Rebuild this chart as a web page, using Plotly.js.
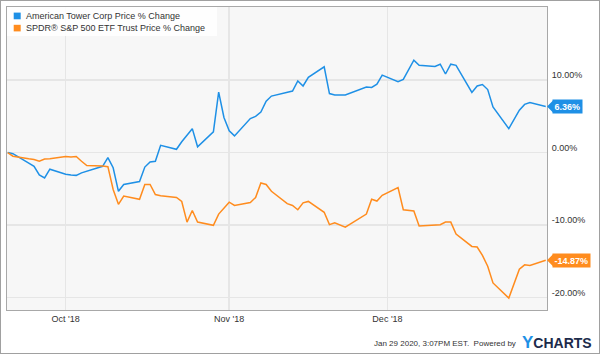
<!DOCTYPE html>
<html>
<head>
<meta charset="utf-8">
<script src="https://cdn.plot.ly/plotly-3.0.1.min.js"></script>
<style>
  html, body { margin: 0; padding: 0; background: #fff; }
  #wrap { position: relative; width: 600px; height: 354px; }
  #chart { position: absolute; left: 0; top: 0; width: 600px; height: 354px; }
  #frame { position: absolute; left: 0; top: 0; width: 600px; height: 354px; box-sizing: border-box; border: 1px solid #a0a0a0; pointer-events: none; }
</style>
</head>
<body>
<div id="wrap"><div id="chart"></div><div id="frame"></div></div>
<script>
// ---- data ----
const dates = [
  '2018-09-20','2018-09-21','2018-09-24','2018-09-25','2018-09-26','2018-09-27','2018-09-28',
  '2018-10-01','2018-10-02','2018-10-03','2018-10-04','2018-10-05','2018-10-08','2018-10-09','2018-10-10','2018-10-11','2018-10-12',
  '2018-10-15','2018-10-16','2018-10-17','2018-10-18','2018-10-19','2018-10-22','2018-10-23','2018-10-24','2018-10-25','2018-10-26',
  '2018-10-29','2018-10-30','2018-10-31',
  '2018-11-01','2018-11-02','2018-11-05','2018-11-06','2018-11-07','2018-11-08','2018-11-09','2018-11-12','2018-11-13','2018-11-14',
  '2018-11-15','2018-11-16','2018-11-19','2018-11-20','2018-11-21','2018-11-23','2018-11-26','2018-11-27','2018-11-28','2018-11-29','2018-11-30',
  '2018-12-03','2018-12-04','2018-12-06','2018-12-07','2018-12-10','2018-12-11','2018-12-12','2018-12-13','2018-12-14',
  '2018-12-17','2018-12-18','2018-12-19','2018-12-20','2018-12-21','2018-12-24','2018-12-26','2018-12-27','2018-12-28','2018-12-31'
];
const amtChange = [
  0, -0.15, -1.45, -1.9, -3.1, -3.5, -2.3,
  -3.0, -3.1, -3.15, -2.8, -2.6, -1.9, -0.7, -2.1, -5.35, -4.4,
  -4.0, -2.0, -1.3, -1.2, 1.0, 0.45, 1.5, 2.4, 3.3, 0.8,
  2.85, 8.35, 4.85,
  3.0, 2.3, 4.7, 5.0, 5.6, 7.1, 7.8, 8.35, 8.5, 9.9,
  9.2, 10.4, 11.85, 8.15, 7.95, 7.95, 8.7, 9.05, 9.0, 9.45, 10.7,
  9.8, 10.1, 12.75, 12.05, 11.9, 12.2, 10.85, 12.2, 12.05,
  8.3, 9.2, 9.4, 8.7, 6.3, 3.3, 5.85, 6.65, 6.9, 6.36
];
const spyChange = [
  0, -0.5, -0.85, -0.95, -1.2, -0.9, -0.85,
  -0.55, -0.6, -0.55, -1.2, -1.8, -1.85, -1.95, -5.1, -7.15, -6.0,
  -6.45, -4.4, -4.4, -5.8, -5.95, -6.2, -6.75, -9.6, -8.0, -9.6,
  -10.05, -8.5, -7.6,
  -6.85, -7.3, -6.9, -6.2, -4.2, -4.4, -5.35, -7.05, -7.3, -7.9,
  -6.95, -6.75, -8.25, -9.95, -9.7, -10.3, -8.9, -8.5, -6.45, -6.7, -5.9,
  -4.85, -7.9, -8.07, -10.15, -9.96, -9.96, -9.6, -9.6, -11.25,
  -12.96, -13.05, -14.2, -15.7, -18.0, -20.1, -16.1, -15.5, -15.6, -14.87
];
const seriesNames = ['American Tower Corp Price % Change', 'SPDR® S&P 500 ETF Trust Price % Change'];
const monthTicks = ['2018-10-01', '2018-11-01', '2018-12-01'];
const monthLabels = ["Oct '18", "Nov '18", "Dec '18"];
const yTicks = [-20, -10, 0, 10];
const yLabels = yTicks.map(v => v.toFixed(2) + '%');
const footerText = 'Jan 29 2020, 3:07PM EST.  Powered by';

// ---- style ----
const BLUE = '#1e90e6';
const ORANGE = '#ff8c1e';
const FONT = 'Liberation Sans, Arial, Helvetica, sans-serif';
const M = {l: 7, r: 53, t: 7, b: 44};
const PW = 600 - M.l - M.r, PH = 354 - M.t - M.b;
const px2x = p => (p - M.l) / PW;
const px2y = p => 1 - (p - M.t) / PH;

const traces = [
  {x: dates, y: amtChange, type: 'scatter', mode: 'lines', name: seriesNames[0],
   line: {color: BLUE, width: 1.5}, hoverinfo: 'skip'},
  {x: dates, y: spyChange, type: 'scatter', mode: 'lines', name: seriesNames[1],
   line: {color: ORANGE, width: 1.5}, hoverinfo: 'skip'}
];

const lastA = amtChange[amtChange.length - 1];
const lastS = spyChange[spyChange.length - 1];

const shapes = [
  // legend box
  {type: 'rect', xref: 'paper', yref: 'paper', x0: 0, x1: px2x(217), y0: px2y(36), y1: 1,
   fillcolor: 'rgba(255,255,255,0.85)', line: {width: 0}},
  {type: 'rect', xref: 'paper', yref: 'paper', x0: px2x(13.7), x1: px2x(20.7), y0: px2y(19.3), y1: px2y(12.6),
   fillcolor: BLUE, line: {width: 0}},
  {type: 'rect', xref: 'paper', yref: 'paper', x0: px2x(13.7), x1: px2x(20.7), y0: px2y(31.4), y1: px2y(24.8),
   fillcolor: ORANGE, line: {width: 0}},
  // end label pointers
  {type: 'path', xref: 'paper', xsizemode: 'pixel', xanchor: 1, yref: 'y', ysizemode: 'pixel', yanchor: lastA,
   path: 'M0,0 L6,6 L6,-6 Z', fillcolor: BLUE, line: {width: 0}},
  {type: 'path', xref: 'paper', xsizemode: 'pixel', xanchor: 1, yref: 'y', ysizemode: 'pixel', yanchor: lastS,
   path: 'M0,0 L6,6 L6,-6 Z', fillcolor: ORANGE, line: {width: 0}}
];

const annotations = [
  {xref: 'paper', yref: 'paper', x: px2x(24), y: px2y(16), xanchor: 'left', yanchor: 'middle',
   text: seriesNames[0], showarrow: false, font: {size: 9, color: '#333', family: FONT}},
  {xref: 'paper', yref: 'paper', x: px2x(24), y: px2y(28.2), xanchor: 'left', yanchor: 'middle',
   text: seriesNames[1], showarrow: false, font: {size: 9, color: '#333', family: FONT}},
  {xref: 'paper', yref: 'y', x: 1, y: lastA, xanchor: 'left', yanchor: 'middle', xshift: 5,
   text: '<b>' + lastA.toFixed(2) + '%</b>', showarrow: false, bgcolor: BLUE, borderpad: 1.5,
   font: {size: 9, color: '#fff', family: FONT}},
  {xref: 'paper', yref: 'y', x: 1, y: lastS, xanchor: 'left', yanchor: 'middle', xshift: 5,
   text: '<b>' + lastS.toFixed(2) + '%</b>', showarrow: false, bgcolor: ORANGE, borderpad: 1.5,
   font: {size: 9, color: '#fff', family: FONT}},
  {xref: 'paper', yref: 'paper', x: px2x(518), y: px2y(343), xanchor: 'right', yanchor: 'middle',
   text: footerText, showarrow: false, font: {size: 8, color: '#333', family: FONT}},
  {xref: 'paper', yref: 'paper', x: px2x(520), y: px2y(342), xanchor: 'left', yanchor: 'middle',
   text: '<b><span style="color:' + BLUE + ';font-size:17px">Y</span>CHARTS</b>', showarrow: false,
   font: {size: 14, color: '#1c2b4b', family: FONT}}
];

const layout = {
  width: 600, height: 354,
  margin: {l: M.l, r: M.r, t: M.t, b: M.b, pad: 0},
  paper_bgcolor: '#ffffff', plot_bgcolor: '#f7f7f7',
  showlegend: false,
  font: {family: FONT, size: 9, color: '#333'},
  xaxis: {
    type: 'date', range: ['2018-09-19 21:00', '2018-12-31 05:45'],
    tickmode: 'array', tickvals: monthTicks, ticktext: monthLabels,
    showgrid: true, gridcolor: '#e6e6e6', gridwidth: 1.5,
    showline: true, mirror: true, linecolor: '#a8a8a8', linewidth: 1,
    ticks: '', zeroline: false, fixedrange: true,
    tickfont: {size: 9, color: '#333', family: FONT}
  },
  yaxis: {
    side: 'right', range: [-21.74, 20.1],
    tickmode: 'array', tickvals: yTicks, ticktext: yLabels,
    showgrid: true, gridcolor: '#e6e6e6', gridwidth: 1.5,
    showline: true, mirror: true, linecolor: '#a8a8a8', linewidth: 1,
    ticks: '', zeroline: false, fixedrange: true,
    ticklabelshift: -5, ticklabelstandoff: 2,
    tickfont: {size: 9, color: '#333', family: FONT}
  },
  shapes: shapes,
  annotations: annotations
};

Plotly.newPlot('chart', traces, layout, {displayModeBar: false, staticPlot: true});
</script>
</body>
</html>
